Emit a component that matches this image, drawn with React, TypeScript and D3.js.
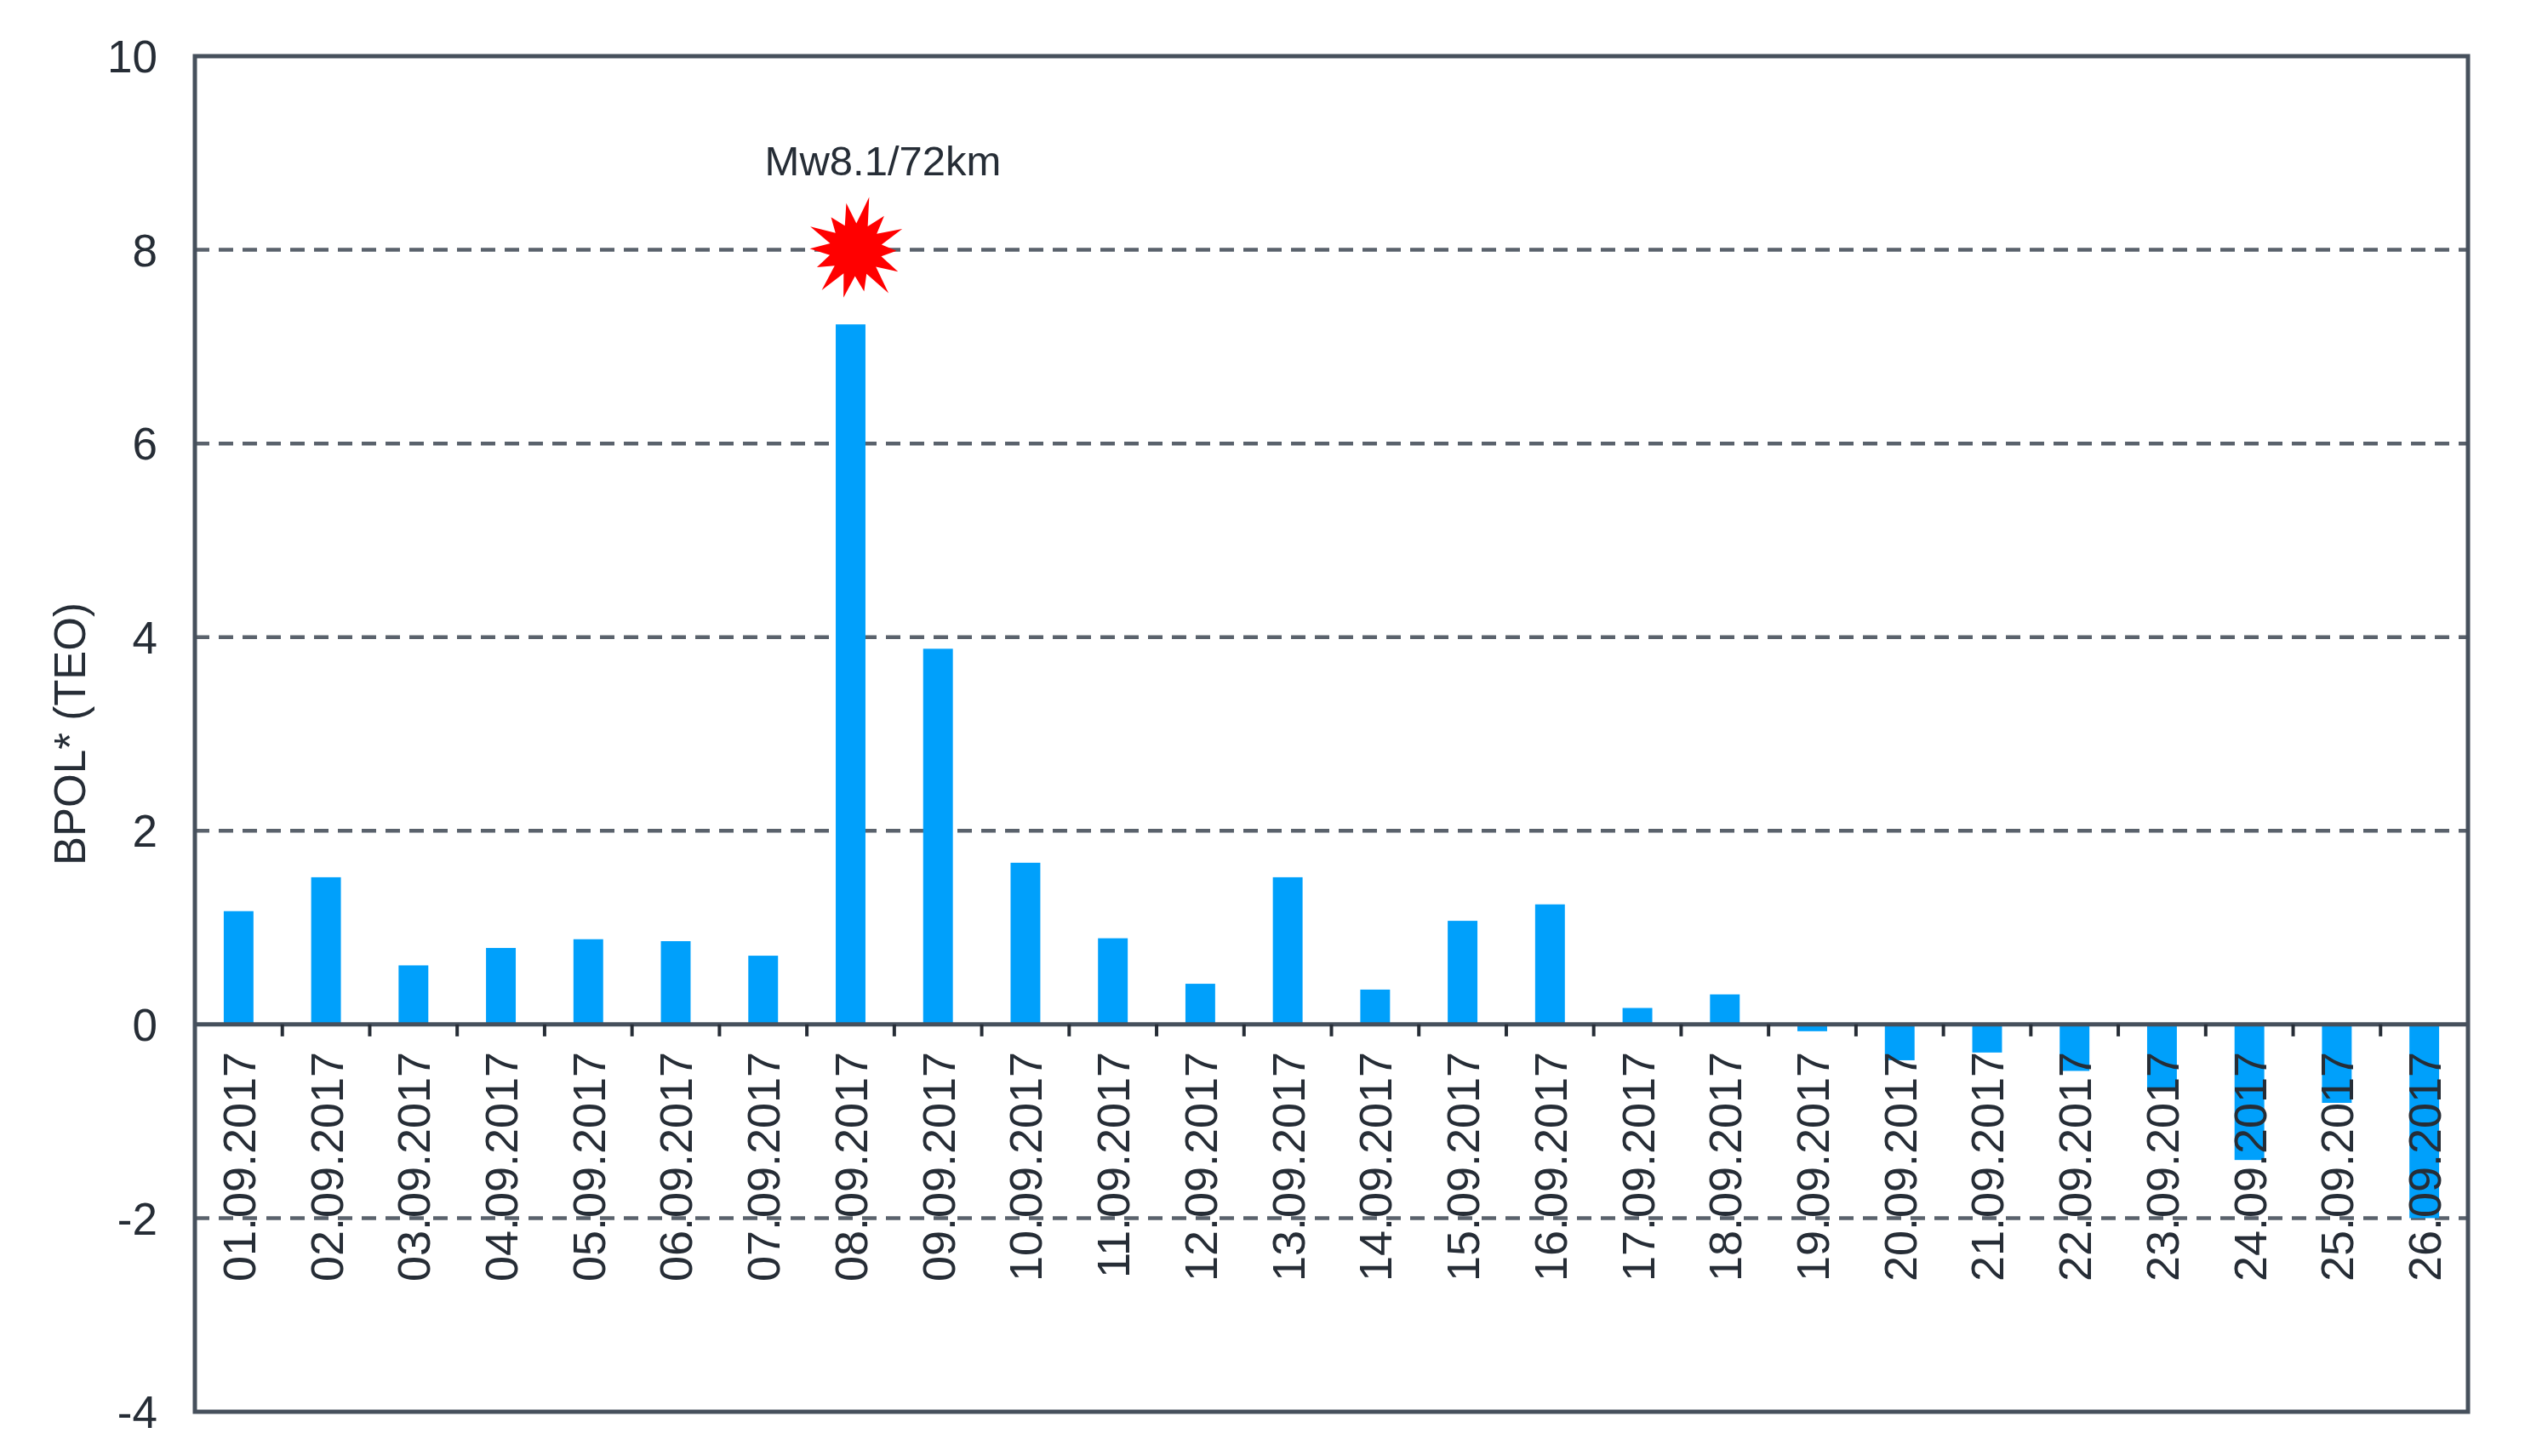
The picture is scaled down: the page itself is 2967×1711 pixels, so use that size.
import React from 'react';
import * as d3 from 'd3';

// daily BPOL* (TEO) values, September 2017
const dates = [
  '01.09.2017', '02.09.2017', '03.09.2017', '04.09.2017', '05.09.2017', '06.09.2017',
  '07.09.2017', '08.09.2017', '09.09.2017', '10.09.2017', '11.09.2017', '12.09.2017',
  '13.09.2017', '14.09.2017', '15.09.2017', '16.09.2017', '17.09.2017', '18.09.2017',
  '19.09.2017', '20.09.2017', '21.09.2017', '22.09.2017', '23.09.2017', '24.09.2017',
  '25.09.2017', '26.09.2017',
];
const bpol = [
  1.17, 1.52, 0.61, 0.79, 0.88, 0.86, 0.71, 7.23, 3.88, 1.67, 0.89, 0.42, 1.52,
  0.36, 1.07, 1.24, 0.17, 0.31, -0.07, -0.37, -0.29, -0.48, -0.66, -1.40, -0.81, -2.0,
];
const yTicks = [-4, -2, 0, 2, 4, 6, 8, 10];
const gridLevels = [-2, 2, 4, 6, 8];

// earthquake marker
const eventDate = '08.09.2017';
const eventLevel = 8;
const eventLabel = 'Mw8.1/72km';
const starOuter = [64, 52, 60, 48, 56, 64, 50, 58, 62, 50, 54, 60, 48, 56];

const width = 2967;
const height = 1711;
const margin = { top: 66, right: 67, bottom: 52, left: 229 };
const font = '"Liberation Sans", Arial, sans-serif';
const ink = '#262d36';
const frame = '#46505c';

const App = () => {
  const x = d3.scaleBand()
    .domain(dates)
    .range([margin.left, width - margin.right])
    .paddingInner(0.66)
    .paddingOuter(0.33);
  const y = d3.scaleLinear()
    .domain([-4, 10])
    .range([height - margin.bottom, margin.top]);

  const step = x.step();
  const center = (d) => x(d) + x.bandwidth() / 2;

  const starPts = [];
  starOuter.forEach((r, i) => {
    const a = (i / starOuter.length) * Math.PI * 2 + 0.25;
    starPts.push([a, r]);
    starPts.push([a + Math.PI / starOuter.length, 31]);
  });
  const star = d3.lineRadial().curve(d3.curveLinearClosed)(starPts);
  const sx = center(eventDate) + 6;
  const sy = y(eventLevel);

  return (
    <svg width={width} height={height} style={{ position: 'absolute', left: 0, top: 0 }}
      fontFamily={font}>
      <rect width={width} height={height} fill="#fff" />
      {gridLevels.map((v) => (
        <line key={v} x1={margin.left} x2={width - margin.right} y1={y(v)} y2={y(v)}
          stroke="#5a626c" strokeWidth={4.5} strokeDasharray="17,11" />
      ))}
      {bpol.map((v, i) => (
        <rect key={dates[i]} x={x(dates[i])} width={x.bandwidth()}
          y={Math.min(y(v), y(0))} height={Math.abs(y(v) - y(0))} fill="#00a0fb" />
      ))}
      {/* zero axis with ticks between days */}
      <line x1={margin.left} x2={width - margin.right} y1={y(0)} y2={y(0)}
        stroke={frame} strokeWidth={5} />
      {dates.slice(1).map((d) => (
        <line key={d} x1={x(d) - step * 0.33} x2={x(d) - step * 0.33}
          y1={y(0)} y2={y(0) + 14} stroke={ink} strokeWidth={4} />
      ))}
      {dates.map((d) => (
        <text key={d} transform={`translate(${center(d)},${y(0) + 32}) rotate(-90)`}
          textAnchor="end" dy="0.36em" fontSize={54} fill={ink}>{d}</text>
      ))}
      <rect x={margin.left} y={margin.top} width={width - margin.left - margin.right}
        height={height - margin.top - margin.bottom} fill="none" stroke={frame} strokeWidth={5} />
      {yTicks.map((v) => (
        <text key={v} x={margin.left - 44} y={y(v)} dy="0.36em" textAnchor="end"
          fontSize={53} fill={ink}>{v}</text>
      ))}
      <text transform={`translate(82,${(margin.top + height - margin.bottom) / 2}) rotate(-90)`}
        textAnchor="middle" dy="0.35em" fontSize={51} fill={ink}>BPOL* (TEO)</text>
      <path d={star} transform={`translate(${sx},${sy})`} fill="#ff0000" />
      <text x={sx + 32} y={sy - 88} textAnchor="middle" fontSize={49} fill={ink}>{eventLabel}</text>
    </svg>
  );
};

export default App;
